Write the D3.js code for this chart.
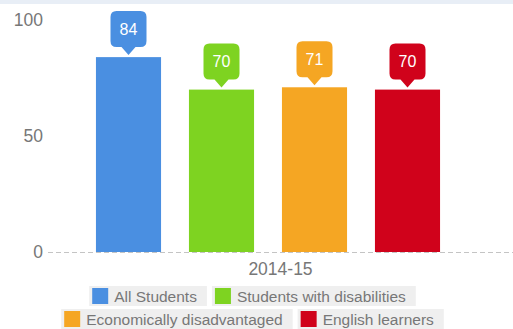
<!DOCTYPE html>
<html>
<head>
<meta charset="utf-8">
<script src="https://cdn.jsdelivr.net/npm/d3@7"></script>
<style>
  html, body { margin: 0; padding: 0; background: #fff; }
  svg { display: block; font-family: "Liberation Sans", Arial, sans-serif; }
</style>
</head>
<body>
<svg id="chart" width="513" height="329"></svg>
<script>
// Chart data
const categories = ["2014-15"];
const seriesNames = ["All Students", "Students with disabilities", "Economically disadvantaged", "English learners"];
const seriesColors = ["#4a8fe1", "#7ed321", "#f5a623", "#d0021b"];
const seriesValues = [84, 70, 71, 70];
const yTicks = [0, 50, 100];

const W = 513, H = 329;
const FONT = "'Liberation Sans', Arial, sans-serif";
const svg = d3.select("#chart");

// thin header strip
svg.append("rect").attr("x", 0).attr("y", 0).attr("width", W).attr("height", 4).attr("fill", "#e8eef6");

const y = d3.scaleLinear().domain([0, 100]).range([252, 20]);
const x0 = d3.scaleBand().domain(categories).range([48, 513]);
const x1 = d3.scaleBand().domain(seriesNames).range([82, 454]).paddingInner(0.3).paddingOuter(0.15);

// y axis labels
const yAxis = d3.axisLeft(y).tickValues(yTicks).tickSize(0).tickPadding(0).tickFormat(d3.format("d"));
const gy = svg.append("g").attr("transform", "translate(43,0)").call(yAxis)
  .attr("font-family", FONT).attr("font-size", 17.5);
gy.select(".domain").remove();
gy.selectAll("text").attr("fill", "#777");

// bars
const bars = seriesNames.map((name, i) => ({ name, value: seriesValues[i], color: seriesColors[i] }));
svg.append("g").selectAll("rect").data(bars).join("rect")
  .attr("x", d => x1(d.name))
  .attr("y", d => y(d.value))
  .attr("width", x1.bandwidth())
  .attr("height", d => y(0) - y(d.value))
  .attr("fill", d => d.color);

// dashed baseline
svg.append("line")
  .attr("x1", 48).attr("x2", W)
  .attr("y1", y(0) + 0.5).attr("y2", y(0) + 0.5)
  .attr("stroke", "#c4c4c4").attr("stroke-width", 1).attr("stroke-dasharray", "5,3");

// value callouts
const bw = 36, bh = 36, r = 6, tipGap = 2, ptrH = 8, ptrW = 7;
const callouts = svg.append("g").selectAll("g").data(bars).join("g")
  .attr("transform", d => `translate(${x1(d.name) + x1.bandwidth() / 2},${y(d.value) - tipGap})`);
callouts.append("path")
  .attr("fill", d => d.color)
  .attr("d", () => {
    const l = -bw / 2, rgt = bw / 2, b = -ptrH, t = -ptrH - bh;
    return `M0,0 L${-ptrW},${b} L${l + r},${b} Q${l},${b} ${l},${b - r} L${l},${t + r} Q${l},${t} ${l + r},${t}` +
           ` L${rgt - r},${t} Q${rgt},${t} ${rgt},${t + r} L${rgt},${b - r} Q${rgt},${b} ${rgt - r},${b} L${ptrW},${b} Z`;
  });
callouts.append("text")
  .attr("x", 0).attr("y", -ptrH - bh / 2)
  .attr("dy", "0.35em")
  .attr("text-anchor", "middle")
  .attr("fill", "#fff").attr("font-size", 16)
  .text(d => d.value);

// category label
svg.append("g").selectAll("text").data(categories).join("text")
  .attr("x", d => x0(d) + x0.bandwidth() / 2)
  .attr("y", 274.5)
  .attr("text-anchor", "middle")
  .attr("fill", "#777").attr("font-size", 17.5)
  .text(d => d);

// legend, two centered rows
const legendRows = [[0, 1], [2, 3]];
const rowY = [286, 309];
const legendCenter = 252.5, itemGap = 5, pad = 3, sw = 16, swGap = 6, padR = 10, itemH = 20;
const legend = svg.append("g");
legendRows.forEach((row, ri) => {
  const items = row.map(i => {
    const g = legend.append("g");
    const bg = g.append("rect").attr("fill", "#efefef").attr("height", itemH).attr("y", 0);
    g.append("rect").attr("x", pad).attr("y", 2).attr("width", sw).attr("height", sw).attr("fill", seriesColors[i]);
    const t = g.append("text").attr("x", pad + sw + swGap).attr("y", itemH / 2).attr("dy", "0.36em")
      .attr("fill", "#777").attr("font-size", 15.5).text(seriesNames[i]);
    const w = pad + sw + swGap + t.node().getComputedTextLength() + padR;
    bg.attr("width", w);
    return { g, w };
  });
  const total = d3.sum(items, d => d.w) + itemGap * (items.length - 1);
  let xPos = legendCenter - total / 2;
  items.forEach(it => {
    it.g.attr("transform", `translate(${xPos},${rowY[ri]})`);
    xPos += it.w + itemGap;
  });
});
</script>
</body>
</html>
